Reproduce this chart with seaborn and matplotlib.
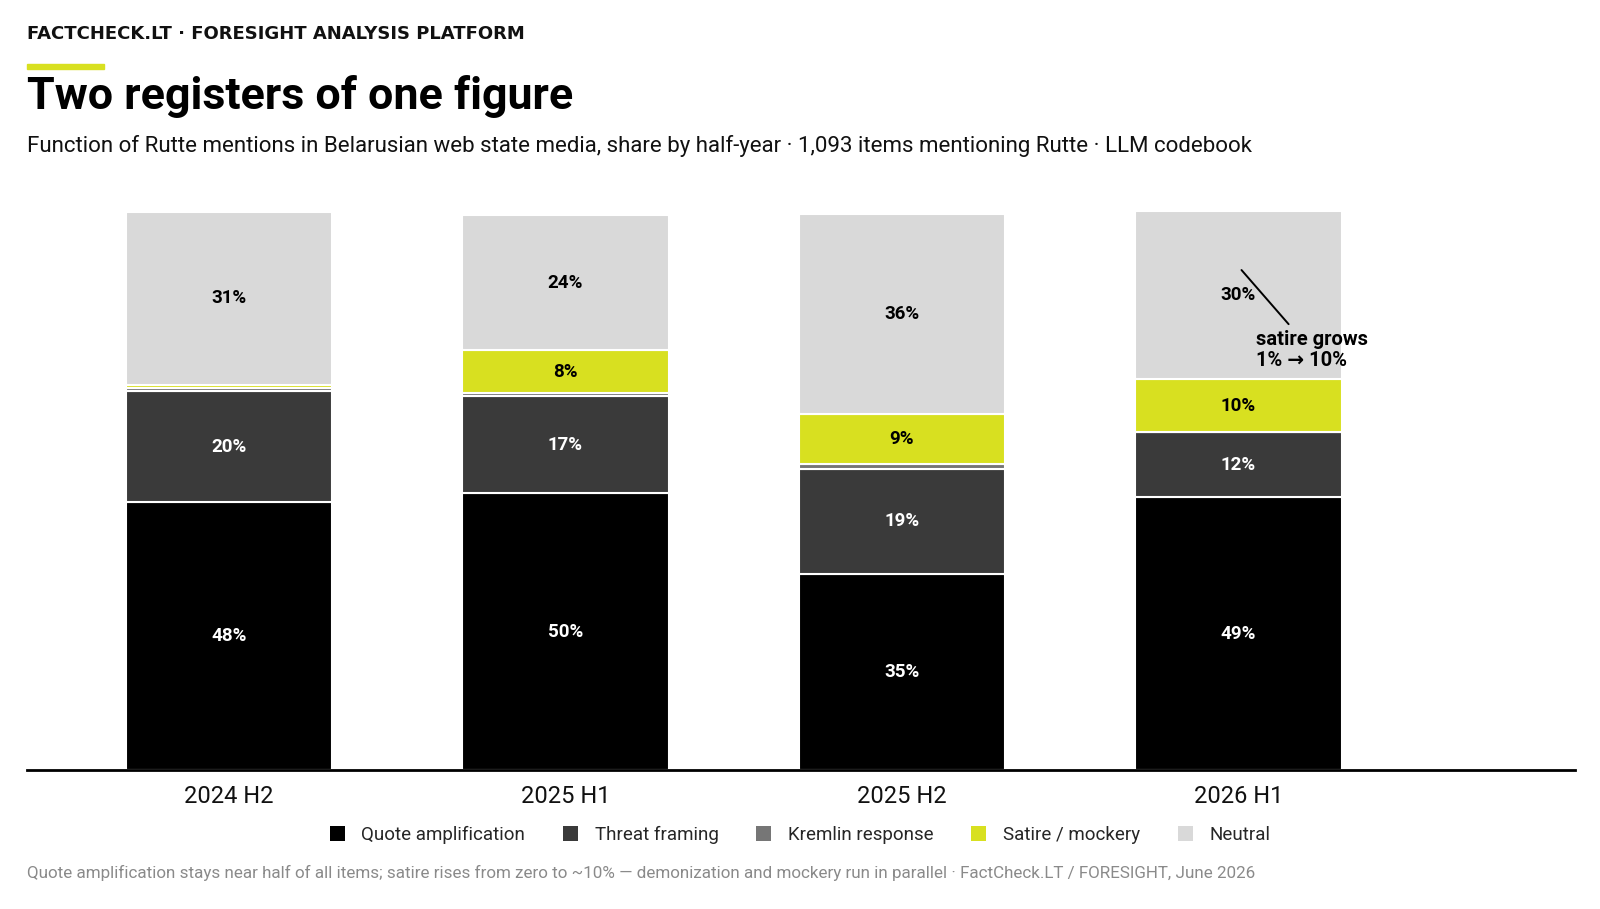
import matplotlib
matplotlib.use("Agg")
import matplotlib.pyplot as plt
from matplotlib.patches import Patch
import seaborn as sns
import numpy as np
import pandas as pd

periods = ["2024 H2", "2025 H1", "2025 H2", "2026 H1"]
series_names = ["Quote amplification", "Threat framing", "Kremlin response", "Satire / mockery", "Neutral"]
quote = [48.0, 49.6, 35.2, 48.9]
threat = [19.9, 17.4, 18.7, 11.6]
kremlin = [0.5, 0.6, 0.9, 0.0]
satire = [0.6, 7.6, 9.0, 9.6]
neutral = [31.0, 24.3, 35.9, 30.0]
colors = ["#000000", "#3a3a3a", "#767676", "#d8e020", "#d9d9d9"]
label_colors = ["white", "white", "white", "black", "black"]

sns.set_theme(style="white")
FONT = "Roboto"
plt.rcParams["font.family"] = [FONT, "DejaVu Sans"]

fig = plt.figure(figsize=(16, 9.09), dpi=100)
W, H = 1600, 909
ax = fig.add_axes([27 / W, 1 - 770 / H, (1575 - 27) / W, 558 / H])

series = [quote, threat, kremlin, satire, neutral]
bottom = np.zeros(len(periods))
for name, vals, col, lc in zip(series_names, series, colors, label_colors):
    df = pd.DataFrame({"period": periods, "value": vals})
    sns.barplot(data=df, x="period", y="value", color=col, width=0.613,
                bottom=bottom, edgecolor="white", linewidth=1.5, ax=ax,
                saturation=1, errorbar=None)
    for i, v in enumerate(vals):
        if v >= 3:
            ax.text(i, bottom[i] + v / 2, f"{v:.0f}%", ha="center", va="center",
                    fontsize=13.5, fontweight="bold", color=lc)
    bottom = bottom + np.array(vals)

ax.set_xlim(-0.6, 4.0)
ax.set_ylim(0, 100)
ax.set_xlabel("")
ax.set_ylabel("")
ax.set_yticks([])
for s in ["top", "right", "left"]:
    ax.spines[s].set_visible(False)
ax.spines["bottom"].set_color("black")
ax.spines["bottom"].set_linewidth(2)
ax.tick_params(axis="x", length=0, pad=11, labelsize=17, labelcolor="#111111")

# annotation: leader line and note
ax.annotate("", xy=(3.009, 89.6), xytext=(3.149, 79.9),
            arrowprops=dict(arrowstyle="-", color="black", lw=1.4,
                            shrinkA=0, shrinkB=0))
ax.text(3.052, 75.3, "satire grows\n1% → 10%", ha="left", va="center",
        fontsize=14.5, fontweight="bold", color="black", linespacing=1.17)

# header texts
fig.text(27 / W, 1 - 34 / H, "FACTCHECK.LT · FORESIGHT ANALYSIS PLATFORM",
         fontsize=13, fontweight="bold", color="#111111", va="center", ha="left",
         family=["DejaVu Sans"])
fig.patches.append(plt.Rectangle((27 / W, 1 - 69 / H), 77 / W, 5 / H,
                                 transform=fig.transFigure, color="#d8e020"))
fig.text(27 / W, 1 - 96 / H, "Two registers of one figure", fontsize=32.3,
         fontweight="bold", color="black", va="center", ha="left")
fig.text(27 / W, 1 - 146 / H,
         "Function of Rutte mentions in Belarusian web state media, share by half-year · 1,093 items mentioning Rutte · LLM codebook",
         fontsize=16, color="#111111", va="center", ha="left")

handles = [Patch(facecolor=c, edgecolor="none") for c in colors]
fig.legend(handles, series_names, loc="center", bbox_to_anchor=(0.5, 1 - 835 / H),
           ncol=5, frameon=False, fontsize=13.5, handlelength=0.8, handleheight=0.8,
           columnspacing=2.0, handletextpad=0.9)

fig.text(27 / W, 1 - 873 / H,
         "Quote amplification stays near half of all items; satire rises from zero to ~10% — demonization and mockery run in parallel · FactCheck.LT / FORESIGHT, June 2026",
         fontsize=12.25, color="#8a8a8a", va="center", ha="left")

fig.savefig("out.png", dpi=100, facecolor="white")
